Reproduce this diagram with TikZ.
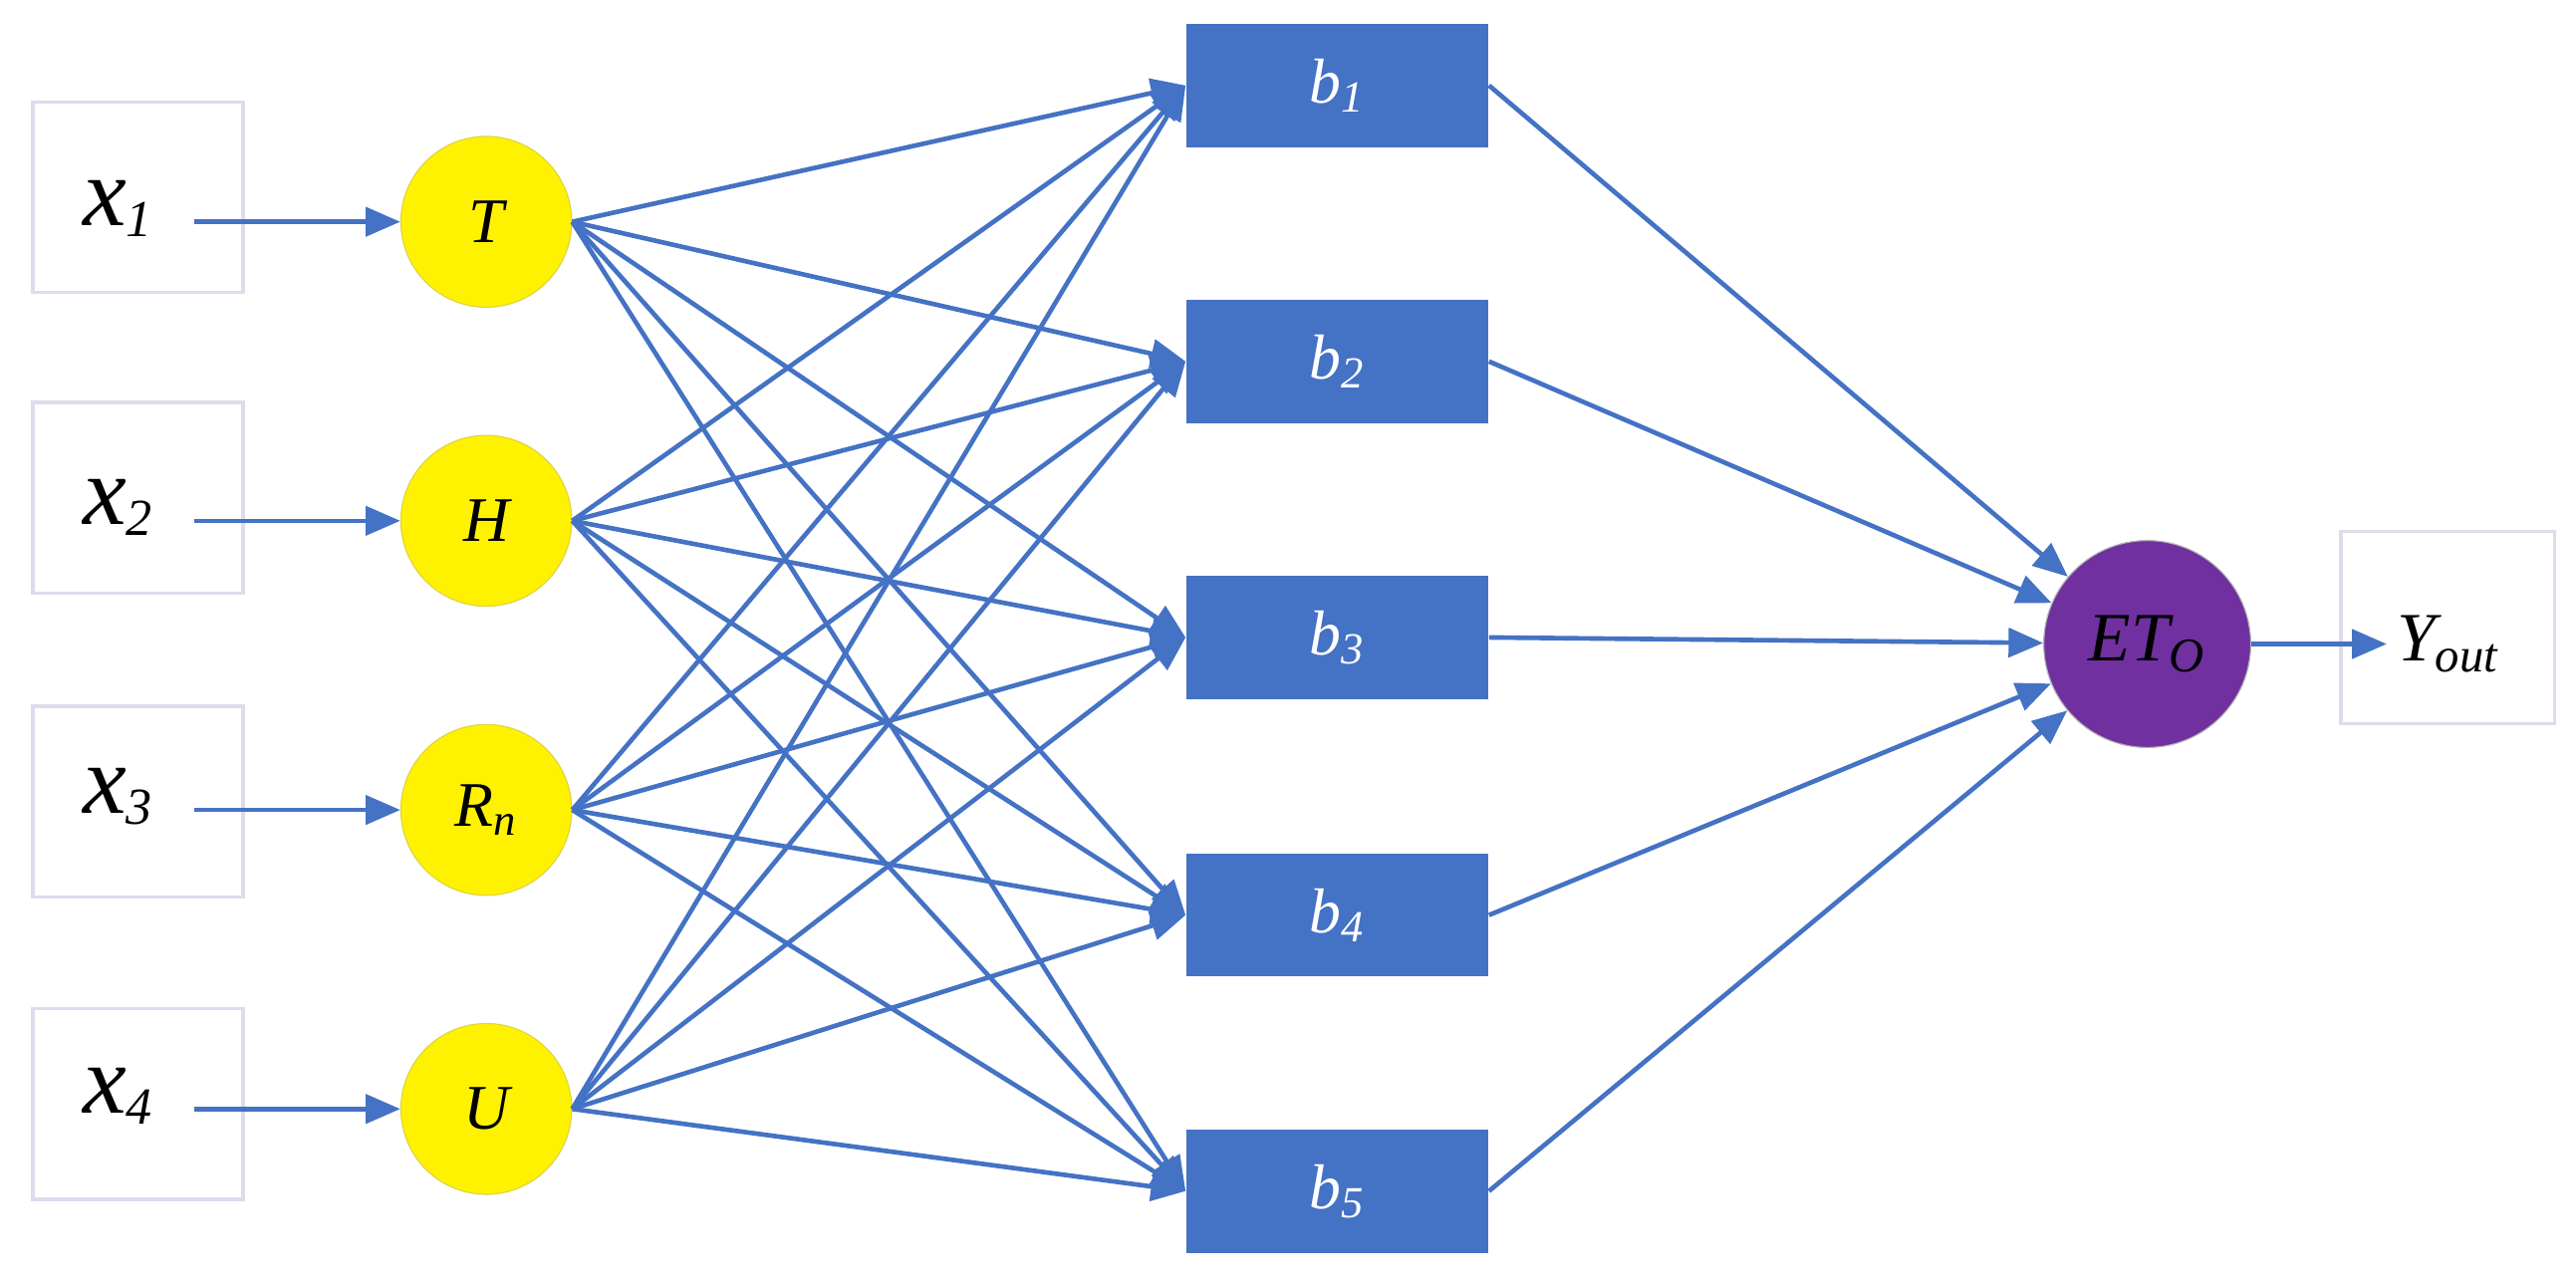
\documentclass[tikz,border=0pt]{standalone}
\usepackage{fontspec}
\setmainfont{Liberation Serif}
\usetikzlibrary{arrows.meta}
\definecolor{lb}{HTML}{4472C4}
\definecolor{pu}{HTML}{7030A0}
\definecolor{bx}{HTML}{DCDCEC}
\begin{document}
\begin{tikzpicture}[x=0.02cm,y=-0.02cm,
 inbox/.style={draw=bx,line width=1.2pt,minimum width=2.56cm,minimum height=2.32cm,inner sep=0pt},
 yc/.style={circle,fill=yellow,draw=yellow!70!gray,minimum size=2.08cm,inner sep=0pt,font=\fontsize{22}{24}\selectfont\itshape},
 br/.style={fill=lb,minimum width=3.68cm,minimum height=1.5cm,inner sep=0pt,text=white,font=\fontsize{22}{24}\selectfont\itshape},
 ar/.style={draw=lb,line width=1.6pt,-{Triangle[length=12pt,width=10pt]}}]
\useasboundingbox (0,0) rectangle (1568,782);
\foreach \i/\y/\c/\l in {1/120/135/T,2/303/317/H,3/488/493/R_n,4/672/675/U}{
 \node[inbox] (x\i) at (84,\y) {};
 \node[font=\fontsize{34}{36}\selectfont\itshape] (xt\i) at (72,\c-8) {x\textsubscript{\fontsize{18}{20}\selectfont\i}};
 \coordinate (s\i) at (118,\c);
 \node[yc] (c\i) at (296,\c) {};
}
\node[font=\fontsize{22}{24}\selectfont\itshape] at (c1) {T};
\node[font=\fontsize{22}{24}\selectfont\itshape] at (c2) {H};
\node[font=\fontsize{22}{24}\selectfont\itshape] at (c3) {R\textsubscript{n}};
\node[font=\fontsize{22}{24}\selectfont\itshape] at (c4) {U};
\foreach \i in {1,...,4}{\draw[ar] (s\i) -- (c\i);}
\foreach \j/\y in {1/52,2/220,3/388,4/557,5/725}{
 \node[br] (b\j) at (814,\y) {b\textsubscript{\j}};
}
\foreach \i in {1,...,4}{\foreach \j in {1,...,5}{\draw[ar] (c\i.east) -- (b\j.west);}}
\node[circle,fill=pu,draw=gray!60,minimum size=2.52cm,inner sep=0pt,font=\fontsize{24}{26}\selectfont\itshape] (e) at (1307,392) {ET\textsubscript{O}};
\foreach \j in {1,...,5}{\draw[ar] (b\j.east) -- (e);}
\node[inbox,minimum width=2.6cm,minimum height=2.34cm] (y) at (1490,382) {};
\node[font=\fontsize{24}{26}\selectfont\itshape] (yt) at (1490,392) {Y\textsubscript{out}};
\draw[ar] (e.east) -- (yt.west);
\end{tikzpicture}
\end{document}
